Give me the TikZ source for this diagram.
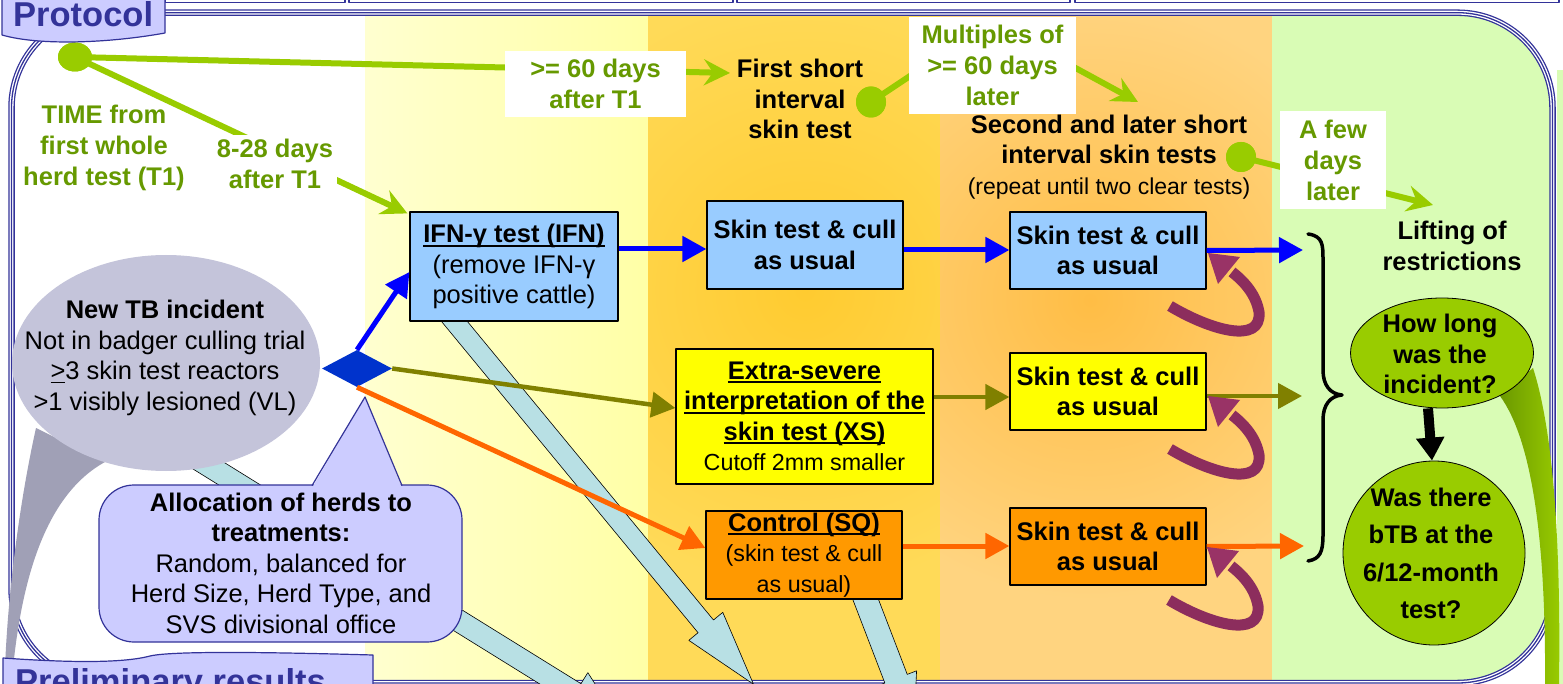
\documentclass[tikz,border=0pt]{standalone}
\usepackage{fontspec}
\setmainfont{Liberation Sans}
\usetikzlibrary{arrows.meta,shapes.geometric}
\definecolor{fb}{HTML}{333399}
\definecolor{lav}{HTML}{CCCCFF}
\definecolor{gl}{HTML}{99CC00}
\definecolor{gt}{HTML}{669900}
\definecolor{lblue}{HTML}{99CCFF}
\definecolor{yel}{HTML}{FFFF00}
\definecolor{org}{HTML}{FF9900}
\definecolor{olv}{HTML}{808000}
\definecolor{orl}{HTML}{FF6600}
\definecolor{bl}{HTML}{0000FF}
\definecolor{dia}{HTML}{0033CC}
\definecolor{pur}{HTML}{993366}
\definecolor{purd}{HTML}{8C2D5D}
\definecolor{gry}{HTML}{C4C4DA}
\definecolor{gryd}{HTML}{A0A0B6}
\definecolor{fatc}{HTML}{B8E0E4}
\definecolor{yla}{HTML}{FFFFD0}
\definecolor{ylb}{HTML}{FFFFA6}
\definecolor{gold}{HTML}{FFDA58}
\definecolor{goldc}{HTML}{FFCB30}
\definecolor{ora}{HTML}{FFD480}
\definecolor{orac}{HTML}{FFBD45}
\definecolor{grn}{HTML}{D9FCB5}
\definecolor{gbandd}{HTML}{6B9900}
\newcommand\fsb{\fontsize{25.5}{30.5}\selectfont\bfseries}
\newcommand\fsr{\fontsize{25.5}{30.5}\selectfont}
\newcommand\fss{\fontsize{23.3}{29}\selectfont\mdseries}
\newcommand\myul[1]{\leavevmode\setbox0=\hbox{#1}\rlap{\rule[-4pt]{\wd0}{2pt}}\box0\relax}
\newcommand\myult[1]{\leavevmode\setbox0=\hbox{#1}\rlap{\rule[-3.5pt]{\wd0}{1.3pt}}\box0\relax}
\newcommand\fatarr[7]{%
  \begin{scope}[shift={(#1,#2)},rotate=#3]
  \filldraw[fill=fatc,draw=black,line width=0.6] (0,-#5) -- (#4,-#5) -- (#4,-#6) -- ({#4+#7},0) -- (#4,#6) -- (#4,#5) -- (0,#5) -- cycle;
  \end{scope}}
\tikzset{
  gline/.style={draw=gl,line width=6,-{Stealth[length=26pt,width=26pt,inset=9pt]}},
  gtxt/.style={font=\fontsize{25.5}{31}\selectfont\bfseries,text=gt,align=center},
  btxt/.style={font=\fsb,align=center},
  boxs/.style={draw=black,line width=1.2,inner sep=0,align=center,font=\fsb},
  colarr/.style={line width=5,-{Triangle[length=24pt,width=25pt]}},
  gdot/.style={ellipse,fill=gl,inner sep=0},
  gell/.style={ellipse,fill=gl,draw=black,line width=0.8,inner sep=0},
  purploop/.pic={
    \draw[purd,line width=11] (-38,53) .. controls (2,77) and (54,92) .. (51,59) .. controls (48,42) and (37,29) .. (24,19);
    \fill[pur] (0,0) -- (32,4) -- (10,31) -- cycle;
  }
}
\begin{document}
\begin{tikzpicture}[x=1pt,y=-1pt,line join=round]
\useasboundingbox (0,0) rectangle (1563,684);
\fill[white] (0,0) rectangle (1563,684);
\fill[grn] (1557,70) rectangle (1563,684);
% top tabs
\foreach \a/\b in {165/345,349/733,737/1070,1075/1559}
  \draw[fb,line width=1.2,fill=white] (\a,-6) rectangle (\b,2.5);
% columns
\begin{scope}
\clip[rounded corners=95] (11.5,12.7) rectangle (1552.5,683);
\fill[white] (0,0) rectangle (365,690);
\shade[left color=yla,right color=ylb] (365,0) rectangle (648,690);
\fill[gold] (648,0) rectangle (940,690);
\begin{scope}
\clip (648,0) rectangle (940,690);
\shade[inner color=goldc,outer color=gold] (805,290) circle (300);
\end{scope}
\fill[ora] (940,0) rectangle (1272,690);
\begin{scope}
\clip (940,0) rectangle (1272,690);
\shade[inner color=orac,outer color=ora] (1090,300) circle (300);
\end{scope}
\fill[grn] (1272,0) rectangle (1560,690);
\end{scope}
% frame
\draw[fb,line width=6.5,rounded corners=95] (11.5,12.7) rectangle (1552.5,683);
\draw[white,line width=3.9,rounded corners=95] (11.5,12.7) rectangle (1552.5,683);
\draw[fb,line width=1.3,rounded corners=95] (11.5,12.7) rectangle (1552.5,683);
% fat arrows
\fatarr{180}{448}{-31.8}{465}{11}{24}{50}
\fatarr{445}{310}{-50.5}{410}{10}{22}{75}
\fatarr{862}{590}{-69}{95}{12}{22}{50}
% green band
\shade[left color=gbandd,right color=gl] (1500,396) .. controls (1532,440) and (1546,540) .. (1545,684) -- (1559,684) .. controls (1561,540) and (1553,430) .. (1533,368) -- cycle;
% grey incident
\fill[gryd] (36,428) .. controls (20,500) and (8,590) .. (5,668) -- (13,668) .. controls (22,580) and (45,495) .. (105,462) -- cycle;
\node[ellipse,fill=gry,minimum width=308,minimum height=216,inner sep=0] (tb) at (166,363) {};
\node[font=\fsr,align=center] (tbt) at (165,358)
  {\textbf{New TB incident}\\Not in badger culling trial\\\myult{>}3 skin test reactors\\>1 visibly lesioned (VL)};
% allocation callout
\draw[fb,fill=lav,line width=1.2,rounded corners=35] (99,485) rectangle (462,642);
\fill[lav] (312,488) -- (365,397) -- (402,488) -- cycle;
\draw[fb,line width=1.2] (312,485.6) -- (365,397) -- (402,485.6);
\node[font=\fsr,align=center] (alloc) at (281,563)
  {\textbf{Allocation of herds to}\\\textbf{treatments:}\\Random, balanced for\\Herd Size, Herd Type, and\\SVS divisional office};
% diamond
\node[diamond,fill=dia,minimum width=70,minimum height=37,shape aspect=1.9,inner sep=0] (dm) at (357,368.5) {};
% boxes
\node[boxs,fill=lblue,minimum width=208,minimum height=109] (ifn) at (514,266.5)
  {\myul{IFN-γ test (IFN)}\\{\mdseries (remove IFN-γ}\\{\mdseries positive cattle)}};
\node[boxs,fill=lblue,minimum width=196,minimum height=88] (sk1) at (805,245) {Skin test \& cull\\as usual};
\node[boxs,fill=lblue,minimum width=196,minimum height=77] (sr1) at (1108,250.5) {Skin test \& cull\\as usual};
\node[boxs,fill=yel,minimum width=257,minimum height=135] (xs) at (804.5,416.5)
  {\myul{Extra-severe}\\\myul{interpretation of the}\\\myul{skin test (XS)}\\{\fss Cutoff 2mm smaller}};
\node[boxs,fill=yel,minimum width=196,minimum height=77] (sr2) at (1108,391.5) {Skin test \& cull\\as usual};
\node[boxs,fill=org,minimum width=196,minimum height=88] (ctl) at (804,555)
  {\myul{Control (SQ)}\\{\fss (skin test \& cull}\\{\fss as usual)}};
\node[boxs,fill=org,minimum width=196,minimum height=77] (sr3) at (1108,546.5) {Skin test \& cull\\as usual};
% coloured arrows
\coordinate (r1) at (1303,250);
\coordinate (r2) at (1302,396);
\coordinate (r3) at (1304,546);
\draw[colarr,bl] (dm.north) -- ([yshift=-5.5pt]ifn.west);
\draw[colarr,olv,line width=4.5] (dm.east) -- ([yshift=8.5pt]xs.west);
\draw[colarr,orl] (dm.south) -- ([yshift=7pt]ctl.west);
\draw[colarr,bl] ([yshift=17.5pt]ifn.east) -- ([yshift=17.5pt]ifn.east -| sk1.west);
\draw[colarr,bl] ([yshift=-5pt]sk1.east) -- ([yshift=-5pt]sk1.east -| sr1.west);
\draw[colarr,bl] (sr1.east) -- (r1);
\draw[colarr,olv,line width=4.5] ([yshift=19.5pt]xs.east) -- ([yshift=19.5pt]xs.east -| sr2.west);
\draw[colarr,olv,line width=4.5] ([yshift=-4.5pt]sr2.east) -- (r2);
\draw[colarr,orl] ([yshift=9pt]ctl.east) -- ([yshift=9pt]ctl.east -| sr3.west);
\draw[colarr,orl] (sr3.east) -- (r3);
% purple loops
\pic at (1208,253) {purploop};
\pic at (1208,396) {purploop};
\pic at (1207,547) {purploop};
% green timeline
\node[gdot,minimum width=34,minimum height=29] (d1) at (75,57) {};
\node[gdot,minimum width=30,minimum height=31] (d2) at (871,102) {};
\node[gdot,minimum width=30,minimum height=30] (d3) at (1241,157) {};
\coordinate (t60) at (730,73);
\coordinate (apx) at (991,22);
\coordinate (tsec) at (1138,102);
\coordinate (tlift) at (1433,205);
\draw[gline] (d1.center) -- (t60);
\draw[gline] (d1.center) -- ([xshift=-2pt,yshift=-2pt]ifn.north west);
\draw[gl,line width=6] (d2.center) -- (apx);
\draw[gline] (apx) -- (tsec);
\draw[gline] (d3.center) -- (tlift);
\node[gdot,minimum width=34,minimum height=29] at (d1) {};
\node[gdot,minimum width=30,minimum height=31] at (d2) {};
\node[gdot,minimum width=30,minimum height=30] at (d3) {};
\node[gtxt] (time) at (104,148) {TIME from\\first whole\\herd test (T1)};
\node[gtxt,fill=white,inner sep=4] (d828) at (275,164) {8-28 days\\after T1};
\node[gtxt,fill=white,minimum width=181,minimum height=66,inner sep=0] (a60) at (595.5,84) {>= 60 days\\after T1};
\node[gtxt,fill=white,minimum width=167,minimum height=97,inner sep=0] (mult) at (992.5,65.5) {Multiples of\\>= 60 days\\later};
\node[gtxt,fill=white,minimum width=106,minimum height=98,inner sep=0] (few) at (1333,160) {A few\\days\\later};
\node[btxt] (fst) at (800,99) {First short\\interval\\skin test};
\node[btxt] (snd) at (1109,157) {Second and later short\\interval skin tests\\{\fontsize{23}{29}\selectfont\mdseries (repeat until two clear tests)}};
\node[btxt] (lift) at (1452,246) {Lifting of\\restrictions};
% brace
\draw[line width=3.5,line cap=round] (1308,234) .. controls (1323,236) and (1323,245) .. (1323,260) -- (1323,370) .. controls (1323,385) and (1330,394) .. (1342,395) .. controls (1330,396) and (1323,405) .. (1323,420) -- (1323,535) .. controls (1323,552) and (1320,559) .. (1308,561);
% green ellipses
\node[gell,minimum width=183,minimum height=110] (e1) at (1442,353) {};
\node[btxt] (e1t) at (1440,354) {How long\\was the\\incident?};
\node[gell,minimum width=182,minimum height=184] (e2) at (1434,553) {};
\node[font=\fontsize{25.5}{37.5}\selectfont\bfseries,align=center] (e2t) at (1431,553.5) {Was there\\bTB at the\\6/12-month\\test?};
\draw[line width=10,-{Triangle[length=23pt,width=27pt]}] ([xshift=-14pt]e1.south) -- ([xshift=-2pt]e2.north);
% tabs
\draw[fb,fill=lav,line width=1.2] (2,-5) -- (2,35) .. controls (40,46) and (110,43) .. (165,33) -- (165,-5);
\node[font=\fontsize{34.5}{40}\selectfont\bfseries,text=fb,anchor=base west,inner sep=0] (prot) at (13,27) {Protocol};
\draw[fb,fill=lav,line width=1.2] (3,700) -- (3,658) .. controls (60,662) and (120,664) .. (150,656) .. controls (175,650) and (300,653) .. (373,655) -- (373,700);
\node[font=\fontsize{34.5}{40}\selectfont\bfseries,text=fb,anchor=base west,inner sep=0] (prel) at (15,693) {Preliminary results};
\end{tikzpicture}
\end{document}
